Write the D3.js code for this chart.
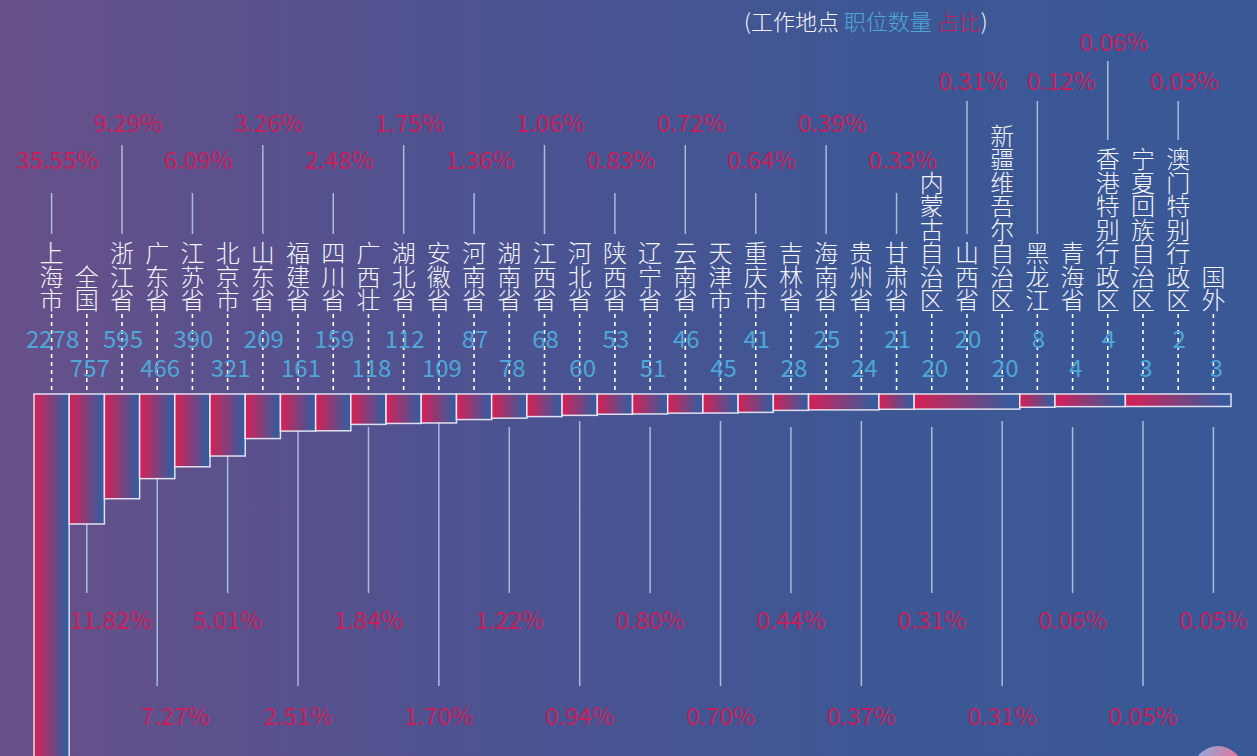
<!DOCTYPE html>
<html>
<head>
<meta charset="utf-8">
<script src="https://cdn.jsdelivr.net/npm/d3@7"></script>
<style>
  html, body { margin: 0; padding: 0; background: #4a5290; }
  svg { display: block; }
  text { font-family: "Noto Sans CJK SC", "Noto Sans", sans-serif; }
</style>
</head>
<body>
<div id="chart"></div>
<script>
// data
var names = ["上海市", "全国", "浙江省", "广东省", "江苏省", "北京市", "山东省", "福建省", "四川省", "广西壮",
  "湖北省", "安徽省", "河南省", "湖南省", "江西省", "河北省", "陕西省", "辽宁省", "云南省", "天津市",
  "重庆市", "吉林省", "海南省", "贵州省", "甘肃省", "内蒙古自治区", "山西省", "新疆维吾尔自治区", "黑龙江", "青海省",
  "香港特别行政区", "宁夏回族自治区", "澳门特别行政区", "国外"];
var counts = [2278, 757, 595, 466, 390, 321, 209, 161, 159, 118,
  112, 109, 87, 78, 68, 60, 53, 51, 46, 45,
  41, 28, 25, 24, 21, 20, 20, 20, 8, 4,
  4, 3, 2, 3];
var shares = ["35.55%", "11.82%", "9.29%", "7.27%", "6.09%", "5.01%", "3.26%", "2.51%", "2.48%", "1.84%",
  "1.75%", "1.70%", "1.36%", "1.22%", "1.06%", "0.94%", "0.83%", "0.80%", "0.72%", "0.70%",
  "0.64%", "0.44%", "0.39%", "0.37%", "0.33%", "0.31%", "0.31%", "0.31%", "0.12%", "0.06%",
  "0.06%", "0.05%", "0.03%", "0.05%"];
// neighbouring places drawn as one joined bar
var mergedBars = [["海南省", "贵州省"], ["内蒙古自治区", "山西省", "新疆维吾尔自治区"],
  ["青海省", "香港特别行政区"], ["宁夏回族自治区", "澳门特别行政区", "国外"]];

var svgWidth = 1257;
var svgHeight = 756;

var svg = d3.select("#chart")
  .append("svg")
  .attr("width", svgWidth)
  .attr("height", svgHeight);

var defs = svg.append("defs");

var bgGrad = defs.append("linearGradient").attr("id", "bgGrad")
  .attr("x1", "0").attr("y1", "0").attr("x2", "1").attr("y2", "0");
bgGrad.append("stop").attr("offset", "0").attr("stop-color", "#675089");
bgGrad.append("stop").attr("offset", "0.35").attr("stop-color", "#4f5290");
bgGrad.append("stop").attr("offset", "0.7").attr("stop-color", "#3d5794");
bgGrad.append("stop").attr("offset", "1").attr("stop-color", "#395896");

var barGrad = defs.append("linearGradient").attr("id", "barGrad")
  .attr("x1", "0").attr("y1", "0").attr("x2", "1").attr("y2", "0");
barGrad.append("stop").attr("offset", "0").attr("stop-color", "#cc2259");
barGrad.append("stop").attr("offset", "0.1").attr("stop-color", "#c8255c");
barGrad.append("stop").attr("offset", "0.9").attr("stop-color", "#395a9b");
barGrad.append("stop").attr("offset", "1").attr("stop-color", "#395a9b");

var dotGrad = defs.append("linearGradient").attr("id", "dotGrad")
  .attr("x1", "0").attr("y1", "0").attr("x2", "1").attr("y2", "0.3");
dotGrad.append("stop").attr("offset", "0").attr("stop-color", "#80b2e6");
dotGrad.append("stop").attr("offset", "1").attr("stop-color", "#f26c90");

svg.append("rect")
  .attr("width", svgWidth)
  .attr("height", svgHeight)
  .attr("fill", "url(#bgGrad)");

// scales
var barTop = 394;
var x = d3.scaleBand().domain(names).range([34, 1231]).padding(0);
var yBar = d3.scaleLinear().domain([0, d3.max(counts)]).range([barTop + 12, barTop + 367]);

function cx(n) { return x(n) + x.bandwidth() / 2; }

// build bar list (merged groups become one wide bar)
var bars = [];
var bottomOf = {};
names.forEach(function(n, i) {
  var grp = mergedBars.find(function(g) { return g.indexOf(n) >= 0; });
  if (grp && grp[0] !== n) return;
  var last = grp ? grp[grp.length - 1] : n;
  var b = { name: n, value: counts[i], x0: x(n), x1: x(last) + x.bandwidth() };
  bars.push(b);
  (grp || [n]).forEach(function(m) { bottomOf[m] = yBar(b.value); });
});

// layout for labels
var charStep = 23.5;
var nameBase = 309;
function nameTop(n) { return nameBase - (n.length - 1) * charStep - 20; }

var topTiers = [{ y: 169, lineTop: 193 }, { y: 132, lineTop: 145 }, { y: 90, lineTop: 101 }, { y: 51, lineTop: 61 }];
var tierOverride = { "山西省": 2, "黑龙江": 2, "香港特别行政区": 3, "澳门特别行政区": 2 };
var bottomTiers = [{ y: 629, lineTop: 427, lineBottom: 593 }, { y: 725, lineTop: 421, lineBottom: 686 }];
var labelShift = { "全国": 24, "广东省": 18, "黑龙江": 18 };

var items = names.map(function(n, i) {
  return { name: n, count: counts[i], share: shares[i], i: i };
});
var topItems = items.filter(function(d) { return d.i % 2 === 0; });
var botItems = items.filter(function(d) { return d.i % 2 === 1; });

topItems.forEach(function(d) {
  var t = tierOverride[d.name] !== undefined ? tierOverride[d.name] : ((d.i / 2) % 2 === 0 ? 0 : 1);
  d.tier = topTiers[t];
});
botItems.forEach(function(d) {
  d.tier = bottomTiers[((d.i - 1) / 2) % 2 === 0 ? 0 : 1];
});

var lineColor = "#a9bdd9";

// connector lines (top)
svg.append("g").selectAll("line")
  .data(topItems)
  .enter()
  .append("line")
  .attr("x1", d => cx(d.name))
  .attr("x2", d => cx(d.name))
  .attr("y1", d => d.tier.lineTop)
  .attr("y2", d => Math.min(235, nameTop(d.name) - 8))
  .attr("stroke", lineColor)
  .attr("stroke-width", 1.5);

// connector lines (bottom)
svg.append("g").selectAll("line")
  .data(botItems)
  .enter()
  .append("line")
  .attr("x1", d => cx(d.name))
  .attr("x2", d => cx(d.name))
  .attr("y1", d => Math.max(d.tier.lineTop, bottomOf[d.name]))
  .attr("y2", d => d.tier.lineBottom)
  .attr("stroke", lineColor)
  .attr("stroke-width", 1.5);

// dotted lines from names to bars
svg.append("g").selectAll("line")
  .data(items)
  .enter()
  .append("line")
  .attr("x1", d => cx(d.name))
  .attr("x2", d => cx(d.name))
  .attr("y1", 314)
  .attr("y2", barTop)
  .attr("stroke", "#ffffff")
  .attr("stroke-width", 1.6)
  .attr("stroke-dasharray", "4,4");

// bars hanging down
svg.append("g").selectAll("rect")
  .data(bars)
  .enter()
  .append("rect")
  .attr("x", d => d.x0)
  .attr("y", barTop)
  .attr("width", d => d.x1 - d.x0)
  .attr("height", d => yBar(d.value) - barTop)
  .attr("fill", "url(#barGrad)")
  .attr("stroke", "rgba(240,240,250,0.9)")
  .attr("stroke-width", 1.5);

// place names, one character per line
var nameText = svg.append("g").selectAll("text")
  .data(items)
  .enter()
  .append("text")
  .attr("text-anchor", "middle")
  .attr("fill", "#f4f4f8")
  .attr("font-size", 24)
  .attr("font-weight", 300);

nameText.selectAll("tspan")
  .data(d => d.name.split("").map(function(c, k) { return { c: c, k: k, n: d.name }; }))
  .enter()
  .append("tspan")
  .attr("x", d => cx(d.n))
  .attr("y", d => nameBase - (d.n.length - 1 - d.k) * charStep)
  .text(d => d.c);

// job counts
svg.append("g").selectAll("text")
  .data(items)
  .enter()
  .append("text")
  .attr("x", d => cx(d.name) + (d.i % 2 === 0 ? 1 : 3))
  .attr("y", d => d.i % 2 === 0 ? 348 : 377)
  .attr("text-anchor", "middle")
  .attr("fill", "#4ea7d8")
  .attr("font-size", 24)
  .attr("font-weight", 400)
  .text(d => d.count);

// shares
svg.append("g").selectAll("text")
  .data(topItems)
  .enter()
  .append("text")
  .attr("x", d => cx(d.name) + 6 + (labelShift[d.name] || 0))
  .attr("y", d => d.tier.y)
  .attr("text-anchor", "middle")
  .attr("fill", "#c81f5b")
  .attr("font-size", 24)
  .attr("font-weight", 400)
  .text(d => d.share);

svg.append("g").selectAll("text")
  .data(botItems)
  .enter()
  .append("text")
  .attr("x", d => cx(d.name) + (labelShift[d.name] || 0))
  .attr("y", d => d.tier.y)
  .attr("text-anchor", "middle")
  .attr("fill", "#c81f5b")
  .attr("font-size", 24)
  .attr("font-weight", 400)
  .text(d => d.share);

// title / legend
var title = svg.append("text")
  .attr("x", 744)
  .attr("y", 30)
  .attr("font-size", 22)
  .attr("font-weight", 300)
  .attr("fill", "#f4f4f8");
title.append("tspan").text("(工作地点 ");
title.append("tspan").attr("fill", "#4ea7d8").text("职位数量 ");
title.append("tspan").attr("fill", "#c81f5b").text("占比");
title.append("tspan").text(")");

// decorative dot bottom right
svg.append("circle")
  .attr("cx", 1218)
  .attr("cy", 771)
  .attr("r", 25)
  .attr("fill", "url(#dotGrad)");
</script>
</body>
</html>
